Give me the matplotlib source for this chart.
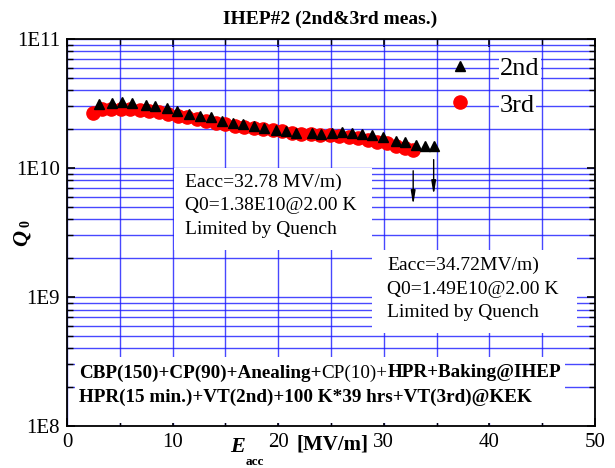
import matplotlib
matplotlib.use('Agg')
import matplotlib.pyplot as plt
from matplotlib.patches import Rectangle
from matplotlib.ticker import FixedLocator, LogLocator, NullFormatter

plt.rcParams['font.family'] = ['Liberation Serif', 'DejaVu Serif']

# 2nd measurement (Eacc [MV/m], Q0)
eacc_2nd = [3.06, 4.23, 5.18, 6.13, 7.48, 8.33, 9.44, 10.39, 11.58, 12.59, 13.61,
            14.65, 15.69, 16.70, 17.74, 18.66, 19.79, 20.74, 21.69, 23.17, 24.02,
            25.07, 26.01, 26.96, 27.91, 28.85, 29.90, 31.16, 32.01, 33.05, 33.90, 34.72]
q0_2nd = [3.13e10, 3.21e10, 3.25e10, 3.17e10, 3.08e10, 3.02e10, 2.90e10, 2.78e10,
          2.64e10, 2.54e10, 2.47e10, 2.33e10, 2.24e10, 2.19e10, 2.12e10, 2.05e10,
          1.97e10, 1.94e10, 1.88e10, 1.86e10, 1.82e10, 1.86e10, 1.89e10, 1.88e10,
          1.83e10, 1.79e10, 1.73e10, 1.63e10, 1.58e10, 1.51e10, 1.49e10, 1.49e10]

# 3rd measurement
eacc_3rd = [2.46, 3.3, 4.2, 5.1, 6.0, 6.9, 7.8, 8.7, 9.6, 10.5, 11.4, 12.3, 13.2,
            14.1, 15.0, 15.9, 16.8, 17.7, 18.6, 19.5, 20.4, 21.3, 22.2, 23.1, 24.0,
            24.9, 25.8, 26.7, 27.6, 28.5, 29.4, 30.3, 31.2, 32.0, 32.78]
q0_3rd = [2.67e10, 2.85e10, 2.88e10, 2.87e10, 2.85e10, 2.82e10, 2.76e10, 2.70e10,
          2.62e10, 2.55e10, 2.47e10, 2.38e10, 2.30e10, 2.23e10, 2.18e10, 2.13e10,
          2.09e10, 2.05e10, 2.00e10, 1.96e10, 1.92e10, 1.88e10, 1.85e10, 1.83e10,
          1.81e10, 1.79e10, 1.77e10, 1.74e10, 1.70e10, 1.65e10, 1.60e10, 1.55e10,
          1.49e10, 1.43e10, 1.38e10]

# quench arrows (x, y start, y end)
quench_e = [32.78, 34.72]
quench_q_from = [1.0e10, 1.22e10]
quench_q_to = [4.9e9, 5.85e9]

x_ticks = [0, 10, 20, 30, 40, 50]
x_minor = [5, 15, 25, 35, 45]
y_ticks = [1e8, 1e9, 1e10, 1e11]
y_labels = ['1E8', '1E9', '1E10', '1E11']

note_3rd = "Eacc=32.78 MV/m)\nQ0=1.38E10@2.00 K\nLimited by Quench"
note_2nd = "Eacc=34.72MV/m)\nQ0=1.49E10@2.00 K\nLimited by Quench"

fig = plt.figure(figsize=(6.15, 4.68), dpi=100)
ax = fig.add_axes([0.109, 0.0897, 0.8585, 0.827])

h3, = ax.plot(eacc_3rd, q0_3rd, 'o', color='red', ms=9.5, mec='red', label='3rd', zorder=3)
h2, = ax.plot(eacc_2nd, q0_2nd, '^', color='black', ms=7.5, label='2nd', zorder=4)

for x, y0, y1 in zip(quench_e, quench_q_from, quench_q_to):
    ax.annotate('', xy=(x, y1), xytext=(x, y0),
                arrowprops=dict(arrowstyle='-|>,head_width=0.13,head_length=0.8',
                                color='black', lw=1), zorder=4)

ax.set_yscale('log')
ax.set_xlim(0, 50)
ax.set_ylim(1e8, 1e11)
ax.xaxis.set_major_locator(FixedLocator(x_ticks))
ax.xaxis.set_minor_locator(FixedLocator(x_minor))
ax.set_xticklabels([str(v) for v in x_ticks])
ax.yaxis.set_major_locator(FixedLocator(y_ticks))
ax.yaxis.set_minor_locator(LogLocator(base=10, subs=range(2, 10)))
ax.yaxis.set_minor_formatter(NullFormatter())
ax.set_yticklabels(y_labels)

ax.set_axisbelow(True)
ax.grid(which='both', color='#1a1aff', lw=1, alpha=0.8)
ax.tick_params(which='both', direction='in', top=True, right=True, colors='black',
               labelsize=15)
ax.tick_params(which='major', length=6, width=1.2)
ax.tick_params(which='minor', length=4, width=1)
ax.tick_params(axis='x', pad=5)
ax.tick_params(axis='y', pad=5)
for sp in ax.spines.values():
    sp.set_linewidth(1.3)
    sp.set_color('black')

# white boxes covering the grid behind the notes
for (x0, y0, w, h) in [(0.203, 0.455, 0.375, 0.212),
                       (0.578, 0.240, 0.387, 0.215),
                       (0.015, 0.008, 0.928, 0.170)]:
    ax.add_patch(Rectangle((x0, y0), w, h, transform=ax.transAxes,
                           facecolor='white', edgecolor='none', zorder=1))

ax.text(0.2235, 0.652, note_3rd, transform=ax.transAxes, fontsize=14,
        va='top', linespacing=1.5, zorder=5)
ax.text(0.606, 0.437, note_2nd, transform=ax.transAxes, fontsize=14,
        va='top', linespacing=1.5, zorder=5)

# treatment history, mixed bold / normal on the first line
fs_hist = 13.8
t1 = ax.text(0.0227, 0.137, 'CBP(150)+CP(90)+Anealing+', transform=ax.transAxes,
             fontsize=fs_hist, fontweight='bold', va='center', zorder=5)
fig.canvas.draw()
r = fig.canvas.get_renderer()
bb = t1.get_window_extent(r).transformed(ax.transAxes.inverted())
t2 = ax.text(bb.x1, 0.137, 'CP(10)+', transform=ax.transAxes, fontsize=fs_hist,
             va='center', zorder=5)
bb2 = t2.get_window_extent(r).transformed(ax.transAxes.inverted())
ax.text(bb2.x1, 0.137, 'HPR+Baking@IHEP', transform=ax.transAxes, fontsize=fs_hist,
        fontweight='bold', va='center', zorder=5)
ax.text(0.0227, 0.075, 'HPR(15 min.)+VT(2nd)+100 K*39 hrs+VT(3rd)@KEK',
        transform=ax.transAxes, fontsize=fs_hist, fontweight='bold', va='center', zorder=5)

leg = ax.legend(handles=[h2, h3], loc='upper left', bbox_to_anchor=(0.72, 0.955),
                frameon=False, fontsize=19, handlelength=1.0, handletextpad=1.0,
                borderpad=0, borderaxespad=0, labelspacing=0.5)
for t in leg.get_texts():
    t.set_bbox(dict(facecolor='white', edgecolor='none', pad=1))

fig.text(0.537, 0.958, 'IHEP#2 (2nd&3rd meas.)', ha='center', va='center',
         fontsize=14, fontweight='bold')

# axis labels
fig.text(0.036, 0.492, 'Q', rotation=90, ha='center', va='center', fontsize=16,
         fontweight='bold', fontstyle='italic')
fig.text(0.042, 0.523, '0', rotation=90, ha='center', va='center', fontsize=10,
         fontweight='bold')
fig.text(0.387, 0.045, 'E', ha='center', va='center', fontsize=16,
         fontweight='bold', fontstyle='italic')
fig.text(0.414, 0.013, 'acc', ha='center', va='center', fontsize=9.5,
         fontweight='bold')
fig.text(0.541, 0.051, '[MV/m]', ha='center', va='center', fontsize=15,
         fontweight='bold')

fig.savefig('out.png', dpi=100)
